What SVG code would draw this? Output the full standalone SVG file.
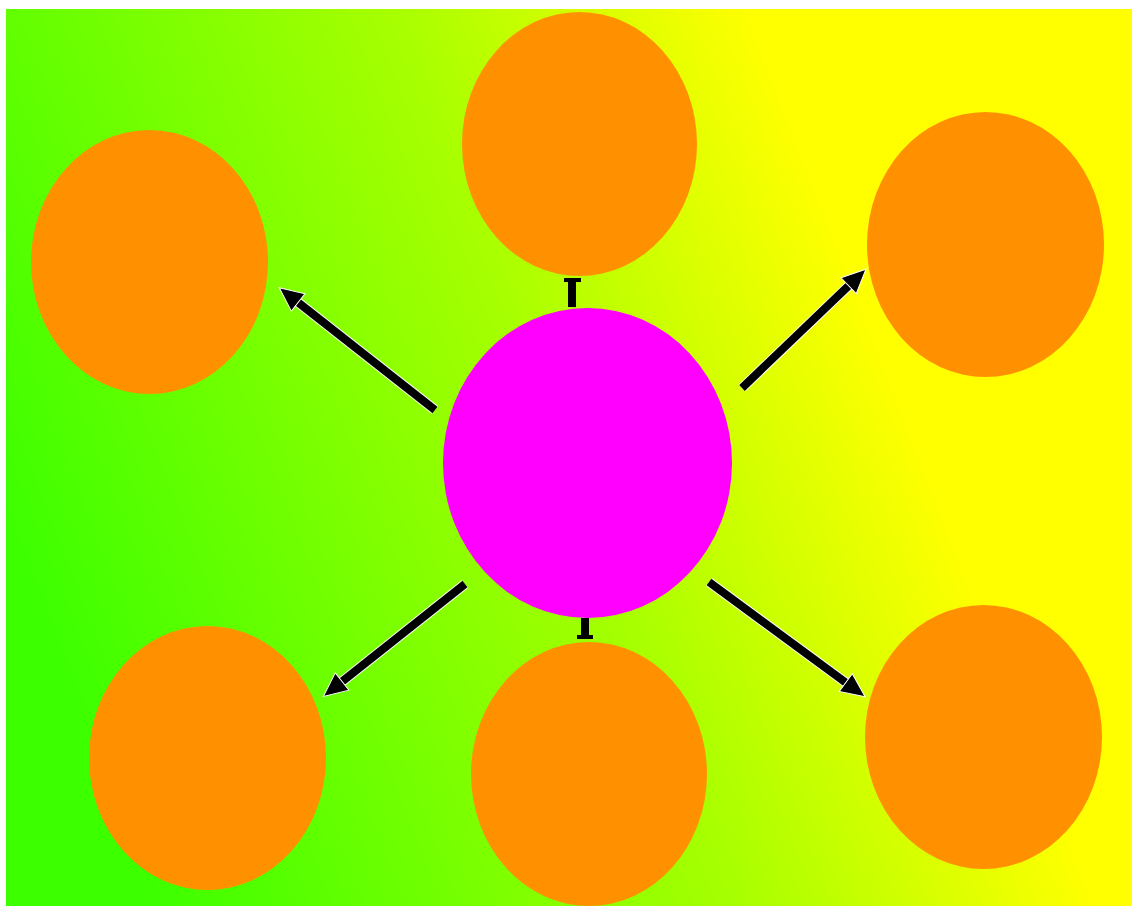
<svg xmlns="http://www.w3.org/2000/svg" width="1132" height="908" viewBox="0 0 1132 908">
  <defs>
    <linearGradient id="bg" gradientUnits="userSpaceOnUse" x1="50" y1="650" x2="1080" y2="250">
      <stop offset="0" stop-color="#3cff00"/>
      <stop offset="0.5" stop-color="#a8ff00"/>
      <stop offset="0.8" stop-color="#ffff00"/>
      <stop offset="1" stop-color="#ffff00"/>
    </linearGradient>
    <marker id="head" markerUnits="userSpaceOnUse" viewBox="-6 -13 28 26" refX="0" refY="0" markerWidth="28" markerHeight="26" orient="auto">
      <path d="M-4,-11 L20,0 L-4,11 Z" fill="#000" stroke="#fff" stroke-width="1"/>
    </marker>
    <style>
      .leaf { fill: #ff9100; }
      .hub { fill: #ff00ff; }
      .halo { stroke: #ffffff; stroke-width: 10; fill: none; }
      .arrow { stroke: #000000; stroke-width: 8; fill: none; }
      .cap { fill: #000000; }
    </style>
  </defs>
  <rect x="0" y="0" width="1132" height="908" fill="#ffffff"/>
  <rect x="6" y="9" width="1126" height="897" fill="url(#bg)"/>

  <g id="connectors">
    <line class="halo" x1="435" y1="410" x2="295" y2="300"/>
    <line class="arrow" x1="435" y1="410" x2="295" y2="300" marker-end="url(#head)"/>
    <line class="halo" x1="465" y1="584" x2="339" y2="684"/>
    <line class="arrow" x1="465" y1="584" x2="339" y2="684" marker-end="url(#head)"/>
    <line class="halo" x1="709" y1="582" x2="849" y2="685"/>
    <line class="arrow" x1="709" y1="582" x2="849" y2="685" marker-end="url(#head)"/>
    <line class="halo" x1="742" y1="388" x2="851.5" y2="283"/>
    <line class="arrow" x1="742" y1="388" x2="851.5" y2="283" marker-end="url(#head)"/>
    <line class="arrow" x1="572" y1="307" x2="572" y2="281"/>
    <rect class="cap" x="564" y="278" width="17" height="4"/>
    <line class="arrow" x1="585" y1="618" x2="585" y2="637"/>
    <rect class="cap" x="577" y="635" width="16" height="4"/>
  </g>

  <g id="node-top"><ellipse class="leaf" cx="579.5" cy="144" rx="117.5" ry="132"/></g>
  <g id="node-top-left"><ellipse class="leaf" cx="149.5" cy="262" rx="118.5" ry="132"/></g>
  <g id="node-top-right"><ellipse class="leaf" cx="985.5" cy="244.5" rx="118.5" ry="132.5"/></g>
  <g id="node-bottom-left"><ellipse class="leaf" cx="207.5" cy="758" rx="118.5" ry="132"/></g>
  <g id="node-bottom"><ellipse class="leaf" cx="589" cy="774" rx="118" ry="132"/></g>
  <g id="node-bottom-right"><ellipse class="leaf" cx="983.5" cy="737" rx="118.5" ry="132"/></g>
  <g id="node-center"><ellipse class="hub" cx="587.5" cy="463" rx="144.5" ry="155"/></g>
</svg>
